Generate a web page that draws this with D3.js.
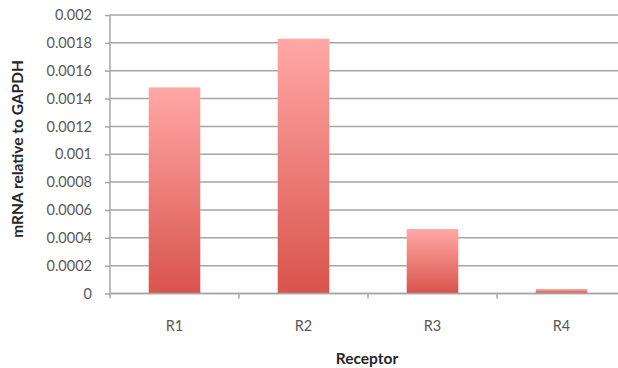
<!DOCTYPE html>
<html>
<head>
<meta charset="utf-8">
<script src="https://cdn.jsdelivr.net/npm/d3@7/dist/d3.min.js"></script>
<style>
  html, body { margin: 0; padding: 0; background: #fff; }
  svg { display: block; }
  text { font-family: Lato, "Open Sans", sans-serif; }
</style>
</head>
<body>
<svg id="chart" width="618" height="368"></svg>
<script>
// Receptor expression, normalised to GAPDH
const receptors = ["R1", "R2", "R3", "R4"];
const expression = [0.00148, 0.00183, 0.000463, 0.000032];
const yTicks = [0, 0.0002, 0.0004, 0.0006, 0.0008, 0.001, 0.0012, 0.0014, 0.0016, 0.0018, 0.002];
const yTickLabels = ["0", "0.0002", "0.0004", "0.0006", "0.0008", "0.001", "0.0012", "0.0014", "0.0016", "0.0018", "0.002"];
const xTitle = "Receptor";
const yTitle = "mRNA relative to GAPDH";

const svg = d3.select("#chart");
const margin = { left: 110, top: 15, bottom: 74.5 };
const plotRight = 626;
const height = 368;

const x = d3.scaleBand().domain(receptors).range([margin.left, plotRight]).paddingInner(0.6).paddingOuter(0.3);
const y = d3.scaleLinear().domain([0, 0.002]).range([height - margin.bottom, margin.top]);

// each bar fades from light pink at the top to red at the base
const defs = svg.append("defs");
const grad = defs.append("linearGradient")
  .attr("id", "barFill").attr("x1", 0).attr("y1", 0).attr("x2", 0).attr("y2", 1);
grad.append("stop").attr("offset", "0%").attr("stop-color", "#ffa8a6");
grad.append("stop").attr("offset", "100%").attr("stop-color", "#d9534c");

// horizontal gridlines
svg.append("g")
  .selectAll("line")
  .data(yTicks)
  .join("line")
  .attr("x1", margin.left).attr("x2", plotRight)
  .attr("y1", d => y(d)).attr("y2", d => y(d))
  .attr("stroke", "#a6a6a6").attr("stroke-width", 1.5);

// bars
svg.append("g")
  .selectAll("rect")
  .data(receptors.map((r, i) => ({ r, v: expression[i] })))
  .join("rect")
  .attr("x", d => x(d.r))
  .attr("width", x.bandwidth())
  .attr("y", d => y(d.v))
  .attr("height", d => y(0) - y(d.v))
  .attr("fill", "url(#barFill)");

// y axis
const yAxis = d3.axisLeft(y)
  .tickValues(yTicks)
  .tickFormat((d, i) => yTickLabels[i])
  .tickSize(5)
  .tickPadding(13);
const gy = svg.append("g").attr("transform", `translate(${margin.left},0)`).call(yAxis);
gy.select(".domain").attr("stroke", "#a6a6a6").attr("stroke-width", 1.5).attr("d", `M0,${y(0)}V${y(0.002)}`);
gy.selectAll(".tick line").attr("stroke", "#a6a6a6").attr("stroke-width", 1.5);
gy.selectAll(".tick text").attr("fill", "#595959").style("font-size", "14.5px").style("font-family", "Lato, sans-serif");

// x axis: ticks at category boundaries
const step = x.step();
const boundaries = receptors.map((r, i) => margin.left + i * step).concat([plotRight]);
const gx = svg.append("g");
gx.append("line")
  .attr("x1", margin.left).attr("x2", plotRight)
  .attr("y1", y(0)).attr("y2", y(0))
  .attr("stroke", "#a6a6a6").attr("stroke-width", 1.5);
gx.selectAll("line.tk")
  .data(boundaries)
  .join("line").attr("class", "tk")
  .attr("x1", d => d).attr("x2", d => d)
  .attr("y1", y(0)).attr("y2", y(0) + 5)
  .attr("stroke", "#a6a6a6").attr("stroke-width", 1.5);
gx.selectAll("text")
  .data(receptors)
  .join("text")
  .attr("x", d => x(d) + x.bandwidth() / 2)
  .attr("y", y(0) + 37)
  .attr("text-anchor", "middle")
  .attr("fill", "#595959")
  .style("font-size", "14.5px")
  .text(d => d);

// axis titles
svg.append("text")
  .attr("x", 367).attr("y", 364)
  .attr("text-anchor", "middle")
  .attr("fill", "#262626")
  .style("font-size", "15.5px").style("font-weight", "bold")
  .text(xTitle);

svg.append("text")
  .attr("transform", `translate(23,149) rotate(-90)`)
  .attr("text-anchor", "middle")
  .attr("fill", "#262626")
  .style("font-size", "15.5px").style("font-weight", "bold")
  .text(yTitle);
</script>
</body>
</html>
